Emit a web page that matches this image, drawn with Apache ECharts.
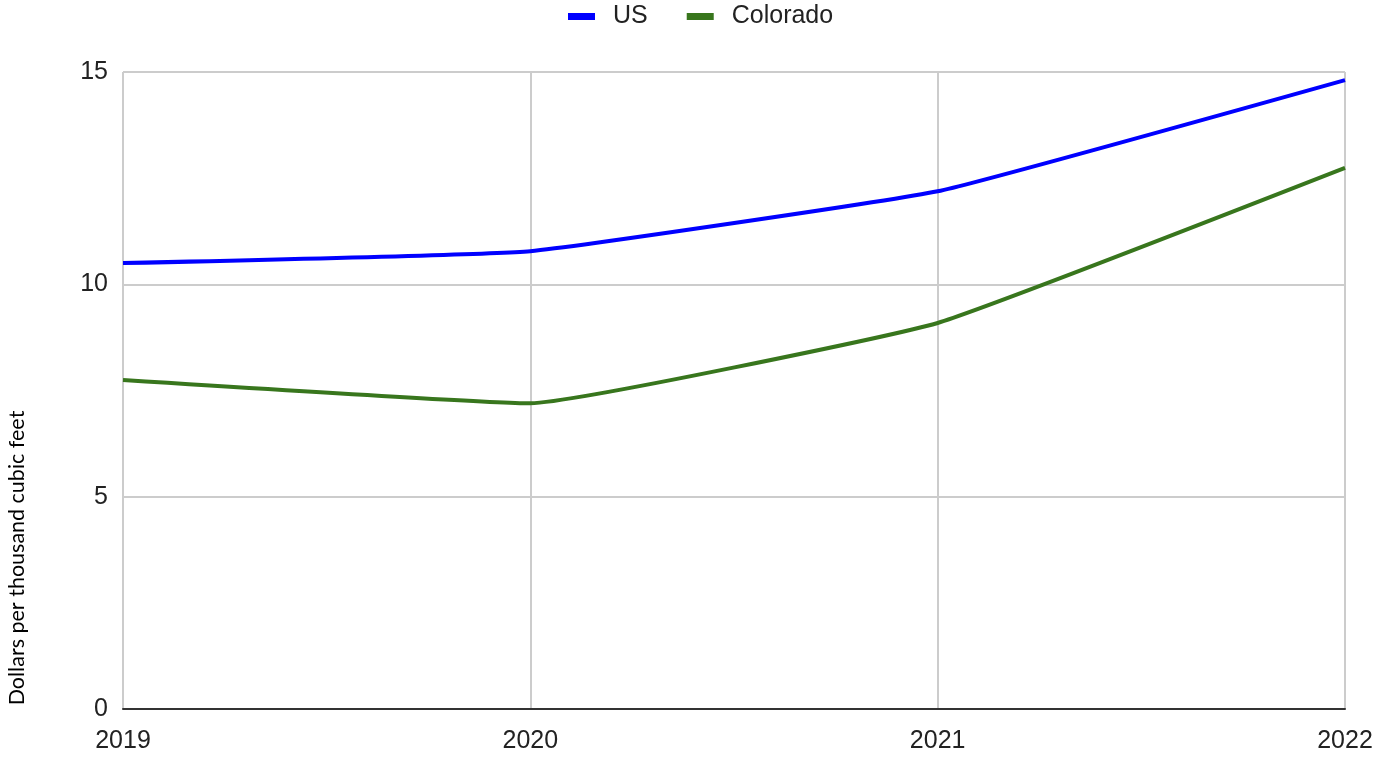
<!DOCTYPE html>
<html>
<head>
<meta charset="utf-8">
<script src="https://cdn.jsdelivr.net/npm/echarts@6/dist/echarts.min.js"></script>
<style>
  html, body { margin: 0; padding: 0; background: #fff; }
  #chart { width: 1377px; height: 757px; }
</style>
</head>
<body>
<div id="chart"></div>
<script>
// Natural gas prices, dollars per thousand cubic feet
const years = ['2019', '2020', '2021', '2022'];
const usPrices = [10.50, 10.78, 12.19, 14.81];
const coloradoPrices = [7.75, 7.20, 9.09, 12.74];
const yTicks = [0, 5, 10, 15];

const labelFont = 'Liberation Sans, Arial, sans-serif';

const chart = echarts.init(document.getElementById('chart'));
chart.setOption({
  backgroundColor: '#ffffff',
  animation: false,
  legend: {
    top: -1,
    left: 563,
    itemWidth: 27,
    itemHeight: 7,
    itemGap: 39,
    icon: 'rect',
    textStyle: {
      fontFamily: labelFont,
      fontSize: 25,
      color: '#222',
      padding: [0, 0, 0, 13]
    },
    data: ['US', 'Colorado']
  },
  grid: { left: 123, right: 32, top: 72, bottom: 48 },
  xAxis: {
    type: 'category',
    data: years,
    boundaryGap: false,
    axisLine: { lineStyle: { color: '#333', width: 2 } },
    axisTick: { show: false },
    axisLabel: {
      fontFamily: labelFont,
      fontSize: 25,
      color: '#222',
      margin: 20
    },
    splitLine: { show: true, lineStyle: { color: '#cccccc', width: 2 } }
  },
  yAxis: {
    type: 'value',
    min: yTicks[0],
    max: yTicks[yTicks.length - 1],
    interval: 5,
    axisLine: { show: false },
    axisTick: { show: false },
    axisLabel: {
      fontFamily: labelFont,
      fontSize: 25,
      color: '#222',
      margin: 15
    },
    splitLine: { lineStyle: { color: '#cccccc', width: 2 } }
  },
  graphic: [{
    type: 'text',
    x: 17,
    y: 558,
    rotation: Math.PI / 2,
    style: {
      text: 'Dollars per thousand cubic feet',
      fontFamily: 'Lato, Open Sans, sans-serif',
      fontSize: 21.5,
      fill: '#000',
      textAlign: 'center',
      textVerticalAlign: 'middle'
    }
  }],
  series: [
    {
      name: 'US',
      type: 'line',
      data: usPrices,
      smooth: 0.1,
      showSymbol: false,
      lineStyle: { color: '#0000ff', width: 4 },
      itemStyle: { color: '#0000ff' }
    },
    {
      name: 'Colorado',
      type: 'line',
      data: coloradoPrices,
      smooth: 0.1,
      showSymbol: false,
      lineStyle: { color: '#38761d', width: 4 },
      itemStyle: { color: '#38761d' }
    }
  ]
});
</script>
</body>
</html>
